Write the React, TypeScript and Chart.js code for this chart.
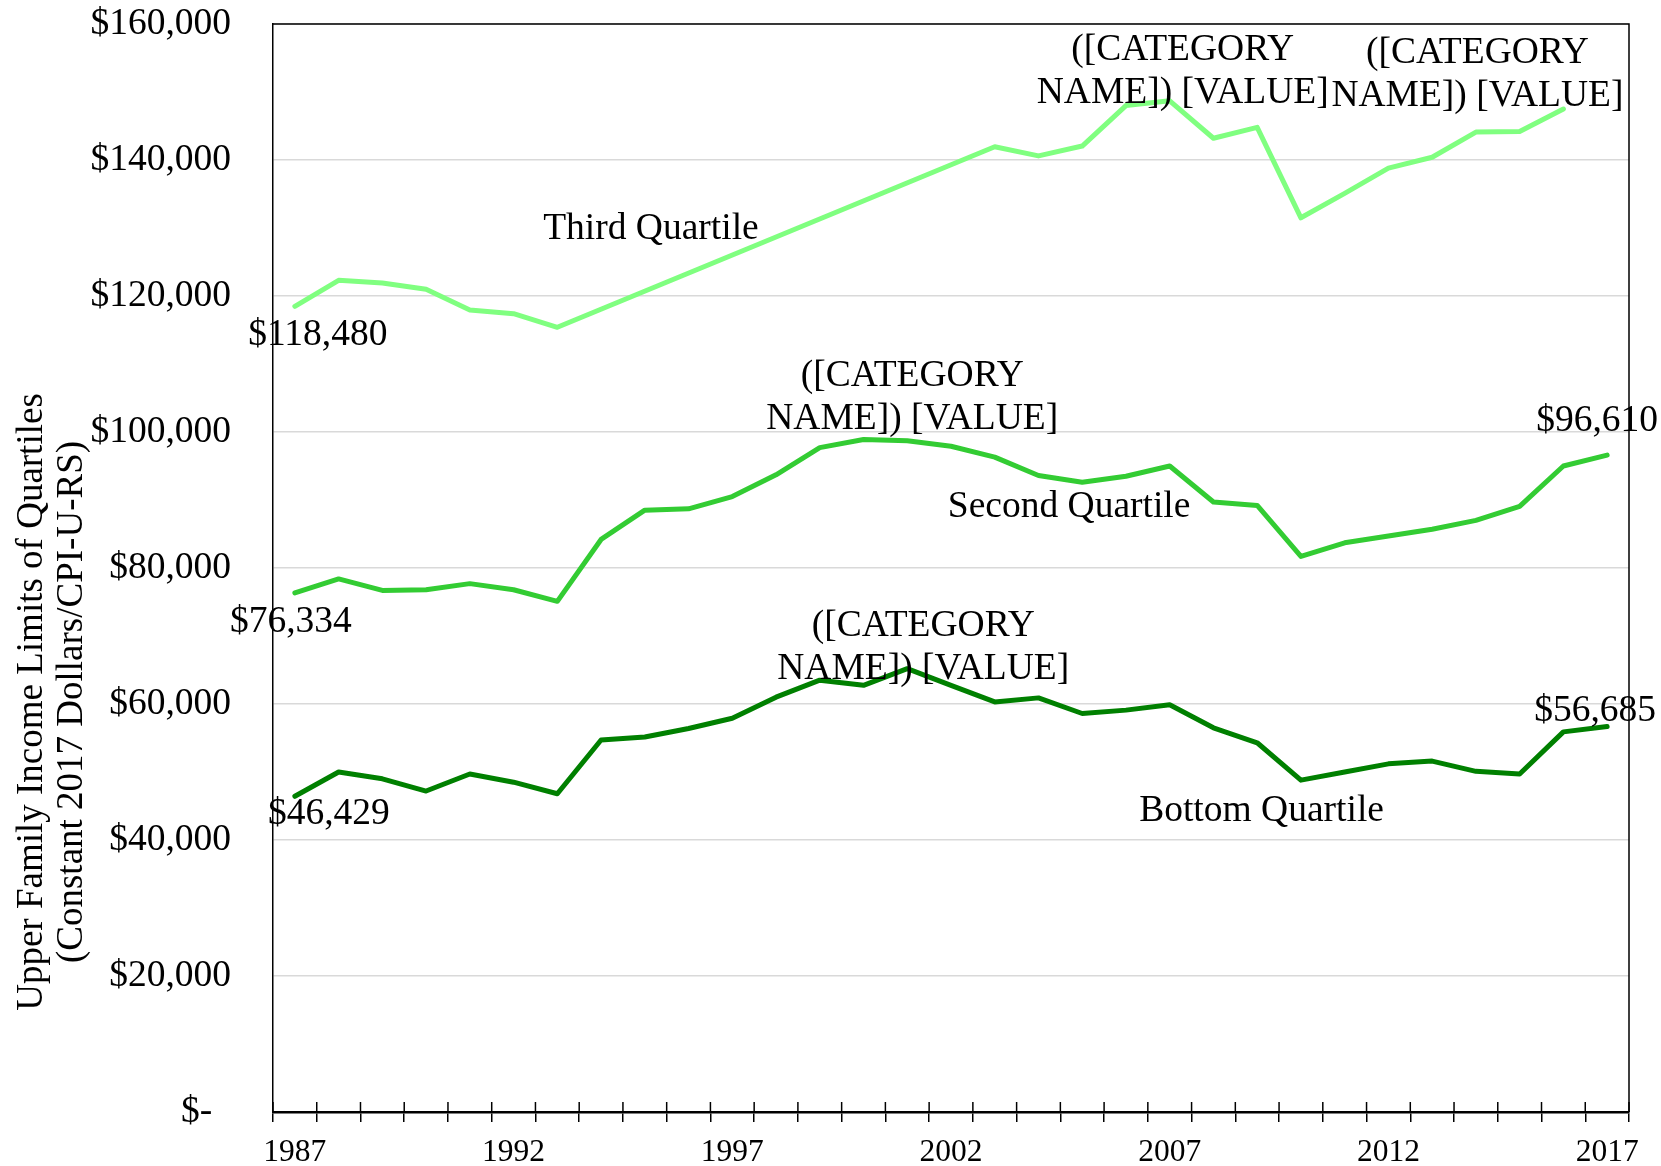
import React, { useEffect, useRef } from 'react';
import { Chart, registerables } from 'chart.js';

Chart.register(...registerables);

// ---- Data ----
const years = [
  '1987', '1988', '1989', '1990', '1991', '1992', '1993', '1994', '1995', '1996',
  '1997', '1998', '1999', '2000', '2001', '2002', '2003', '2004', '2005', '2006',
  '2007', '2008', '2009', '2010', '2011', '2012', '2013', '2014', '2015', '2016', '2017',
];

const thirdQuartile: (number | null)[] = [
  118480, 122300, 121900, 121000, 117950, 117400, 115400,
  null, null, null, null, null, null, null, null, null,
  141950, 140600, 142050, 148000, 148700, 143200, 144800, 131500, 135100, 138800,
  140400, 144100, 144200, 147500, null,
];

const secondQuartile: number[] = [
  76334, 78400, 76700, 76800, 77700, 76800, 75100, 84200, 88500, 88700,
  90500, 93700, 97700, 98900, 98700, 97900, 96300, 93600, 92600, 93500,
  95000, 89700, 89200, 81700, 83700, 84700, 85700, 87000, 89050, 95000, 96610,
];

const bottomQuartile: number[] = [
  46429, 50000, 49000, 47200, 49700, 48500, 46800, 54700, 55150, 56400,
  57900, 61000, 63500, 62750, 65200, 62750, 60300, 60900, 58600, 59100,
  59900, 56500, 54300, 48800, 50000, 51200, 51600, 50100, 49700, 55900, 56685,
];

const seriesNames = ['Third Quartile', 'Second Quartile', 'Bottom Quartile'];
const seriesColors = ['#80FF80', '#33CC33', '#008000'];

const yTitleLines = ['Upper Family Income Limits of Quartiles', '(Constant 2017 Dollars/CPI-U-RS)'];
const placeholderLines = ['([CATEGORY', 'NAME]) [VALUE]'];

const FONT = "'Liberation Serif', 'Times New Roman', serif";

const fmtMoney = (v: number) => '$' + v.toLocaleString('en-US');

// label placement (offsets from the data point, in px)
const pointLabels = [
  { series: 0, index: 0, text: [fmtMoney(thirdQuartile[0] as number)], dx: 23, dy: 29 },
  { series: 0, index: 20, text: placeholderLines, dx: 13, dy: -51 },
  { series: 0, index: 29, text: placeholderLines, dx: -86, dy: -56 },
  { series: 1, index: 0, text: [fmtMoney(secondQuartile[0])], dx: -4, dy: 29 },
  { series: 1, index: 14, text: placeholderLines, dx: 5, dy: -65 },
  { series: 1, index: 30, text: [fmtMoney(secondQuartile[30])], dx: -10, dy: -34 },
  { series: 2, index: 0, text: [fmtMoney(bottomQuartile[0])], dx: 34, dy: 18 },
  { series: 2, index: 14, text: placeholderLines, dx: 16, dy: -42 },
  { series: 2, index: 30, text: [fmtMoney(bottomQuartile[30])], dx: -12, dy: -15 },
];

// series name labels anchored in data space (category index, value)
const nameLabels = [
  { text: seriesNames[0], at: [8.14, 129800] },
  { text: seriesNames[1], at: [17.7, 88900] },
  { text: seriesNames[2], at: [22.1, 44200] },
];

const overlayPlugin = {
  id: 'overlay',
  afterDatasetsDraw(chart: any) {
    const { ctx, chartArea, scales } = chart;
    const xs = scales.x;
    const ys = scales.y;
    ctx.save();
    // top & right frame
    ctx.strokeStyle = '#000';
    ctx.lineWidth = 1.5;
    ctx.beginPath();
    ctx.moveTo(chartArea.left, chartArea.top);
    ctx.lineTo(chartArea.right, chartArea.top);
    ctx.lineTo(chartArea.right, chartArea.bottom);
    ctx.stroke();
    // inner part of x tick marks
    for (let i = 0; i <= years.length; i++) {
      const px = xs.getPixelForValue(i - 0.5);
      ctx.beginPath();
      ctx.moveTo(px, chartArea.bottom);
      ctx.lineTo(px, chartArea.bottom - 10);
      ctx.stroke();
    }
    // data labels
    ctx.fillStyle = '#000';
    ctx.font = `37.5px ${FONT}`;
    ctx.textAlign = 'center';
    ctx.textBaseline = 'middle';
    const lh = 43;
    for (const l of pointLabels) {
      const pt = chart.getDatasetMeta(l.series).data[l.index];
      l.text.forEach((t, k) => {
        ctx.fillText(t, pt.x + l.dx, pt.y + l.dy + k * lh);
      });
    }
    for (const n of nameLabels) {
      ctx.fillText(n.text, xs.getPixelForValue(n.at[0]), ys.getPixelForValue(n.at[1]));
    }
    // y-axis title
    ctx.font = `37px ${FONT}`;
    const cy = 702;
    const xsLines = [32, 72];
    yTitleLines.forEach((t, k) => {
      ctx.save();
      ctx.translate(xsLines[k], cy);
      ctx.rotate(-Math.PI / 2);
      ctx.fillText(t, 0, 0);
      ctx.restore();
    });
    ctx.restore();
  },
};

export default function App() {
  const ref = useRef<HTMLCanvasElement>(null);
  useEffect(() => {
    const datasets = [thirdQuartile, secondQuartile, bottomQuartile].map((d, i) => ({
      label: seriesNames[i],
      data: d,
      borderColor: seriesColors[i],
      backgroundColor: seriesColors[i],
      borderWidth: 5,
      pointRadius: 0,
      tension: 0,
      spanGaps: true,
      borderCapStyle: 'round' as const,
      borderJoinStyle: 'round' as const,
    }));
    const chart = new Chart(ref.current!, {
      type: 'line',
      data: { labels: years, datasets },
      options: {
        animation: false,
        responsive: false,
        devicePixelRatio: 1,
        layout: { padding: { top: 24, right: 32, left: 0, bottom: 0 } },
        plugins: { legend: { display: false }, tooltip: { enabled: false } },
        scales: {
          x: {
            type: 'category',
            offset: true,
            grid: {
              offset: true,
              drawOnChartArea: false,
              drawTicks: true,
              tickLength: 10,
              color: '#000',
              lineWidth: 1.5,
            },
            border: { color: '#000', width: 2.5 },
            ticks: {
              autoSkip: false,
              maxRotation: 0,
              minRotation: 0,
              padding: 12,
              color: '#000',
              font: { family: FONT, size: 31.5 },
              callback: (_v: any, i: number) => (i % 5 === 0 ? years[i] : ''),
            },
            afterFit: (s: any) => {
              s.height = 54;
              s.paddingLeft = 0;
              s.paddingRight = 0;
            },
          },
          y: {
            min: 0,
            max: 160000,
            grid: { color: '#D9D9D9', lineWidth: 1.5, drawTicks: false },
            border: { color: '#000', width: 1.5 },
            ticks: {
              stepSize: 20000,
              padding: 42,
              color: '#000',
              font: { family: FONT, size: 37.5 },
              callback: (v: any) => (v === 0 ? '$-\u2002' : fmtMoney(v)),
            },
            afterFit: (s: any) => {
              s.width = 273;
              s.paddingTop = 0;
              s.paddingBottom = 0;
            },
          },
        },
      },
      plugins: [overlayPlugin],
    });
    return () => chart.destroy();
  }, []);
  return (
    <div style={{ position: 'fixed', left: 0, top: 0, width: 1661, height: 1166, background: '#fff' }}>
      <canvas ref={ref} width={1661} height={1166} style={{ width: 1661, height: 1166, display: 'block' }} />
    </div>
  );
}
